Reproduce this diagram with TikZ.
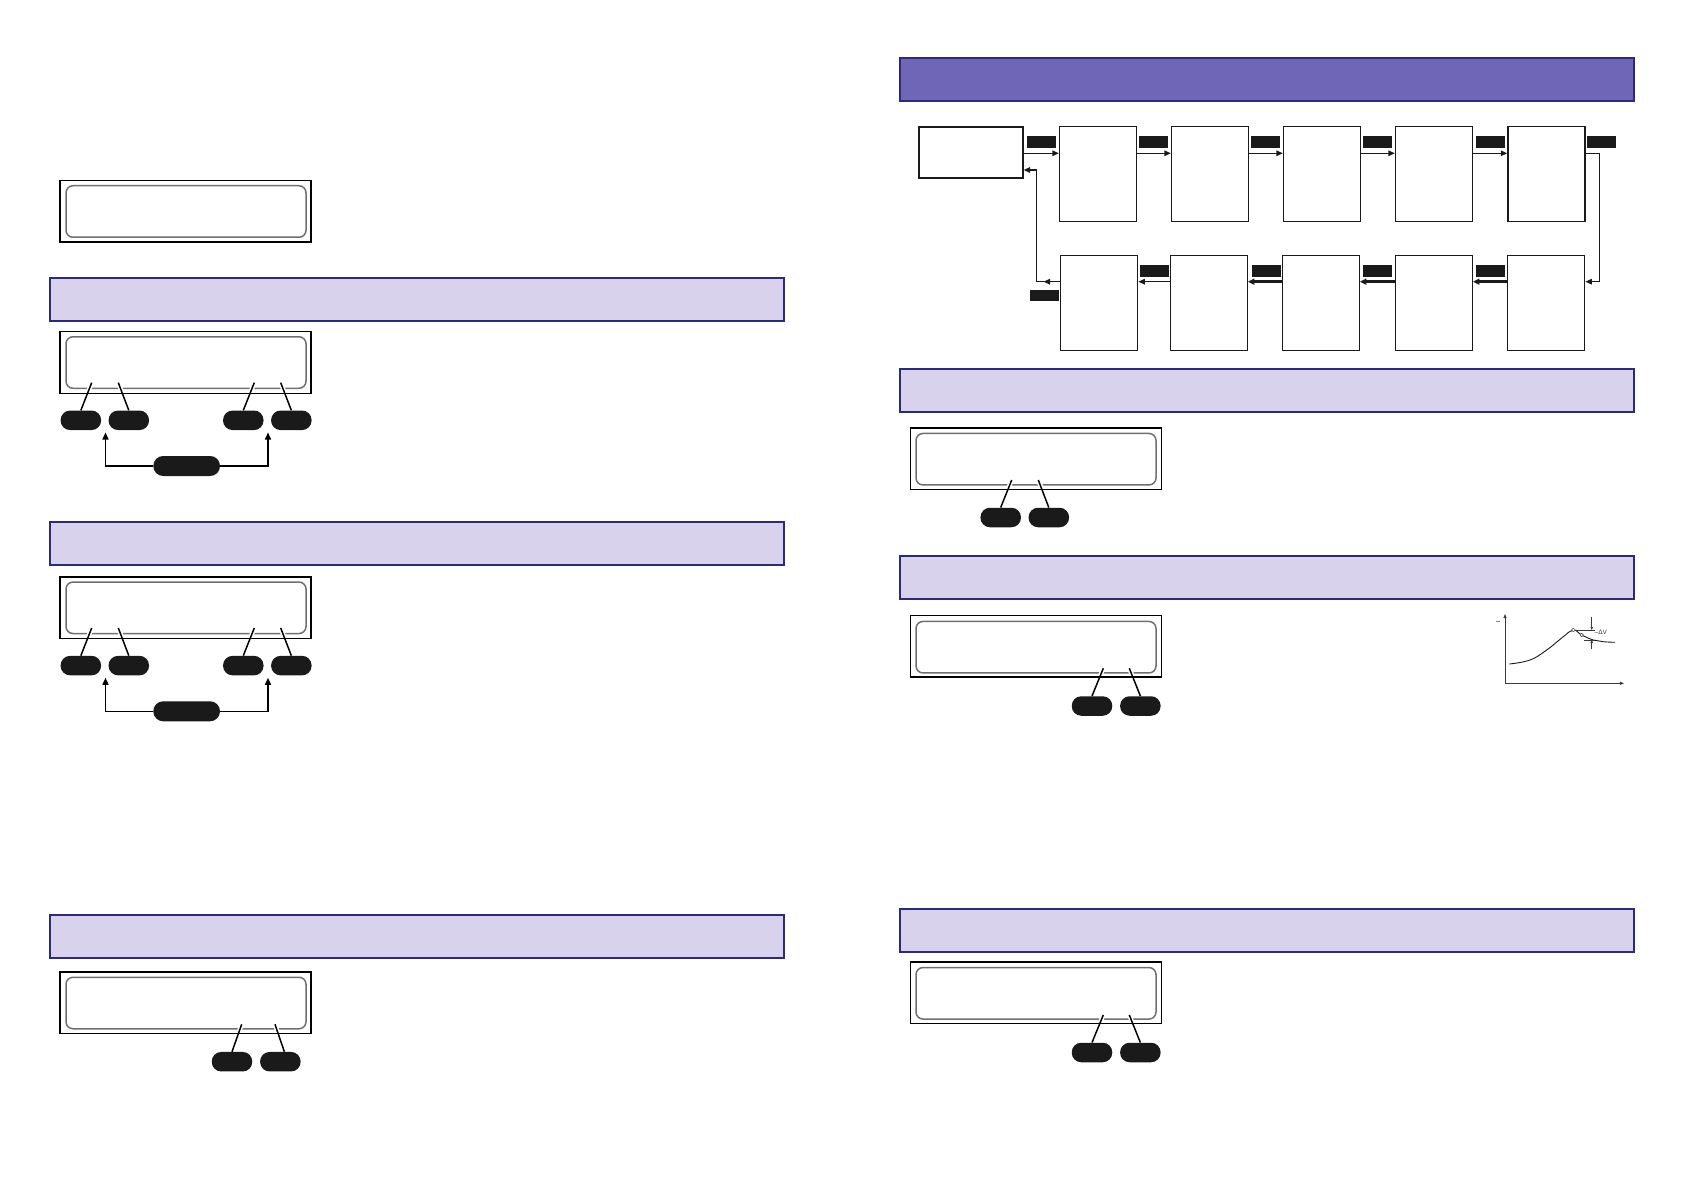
\documentclass[tikz,border=0pt]{standalone}
\usepackage{fontspec}
\setmainfont{Liberation Sans}
\usetikzlibrary{arrows.meta,calc}
\definecolor{lav}{HTML}{D8D2EC}
\definecolor{navyb}{HTML}{2B2A7F}
\definecolor{bannerdark}{HTML}{7066B8}
\definecolor{ink}{HTML}{1A1A1A}
\definecolor{lcdgrey}{HTML}{707070}
\definecolor{plotgrey}{HTML}{3A3A3A}
\begin{document}
\begin{tikzpicture}[x=1pt,y=-1pt,
  banner/.style={draw=navyb,line width=2pt,fill=lav,rectangle,minimum width=734pt,minimum height=43pt,inner sep=0pt},
  darkbanner/.style={banner,fill=bannerdark},
  lcdout/.style={draw=black,line width=1.2pt,rectangle,minimum width=251pt,minimum height=61.5pt,inner sep=0pt},
  lcdin/.style={draw=lcdgrey,line width=1.5pt,rectangle,rounded corners=7pt,minimum width=240pt,minimum height=51.5pt,inner sep=0pt},
  pill/.style={fill=ink,rectangle,rounded corners=9.5pt,minimum width=40.5pt,minimum height=19.5pt,inner sep=0pt},
  bigpill/.style={pill,minimum width=66.7pt,minimum height=20pt,rounded corners=9.9pt},
  leader/.style={line width=1.5pt,preaction={draw=white,line width=4.5pt,shorten >=12pt}},
  conn/.style={line width=1.5pt,-{Triangle[length=7pt,width=6pt]}},
  flowbox/.style={draw=ink,line width=1.3pt,rectangle,minimum width=77pt,minimum height=95pt,inner sep=0pt},
  startbox/.style={draw=ink,line width=2.4pt,rectangle,minimum width=104pt,minimum height=51pt,inner sep=0pt},
  tag/.style={fill=ink,rectangle,minimum width=29pt,minimum height=11.7pt,inner sep=0pt},
  farrow/.style={line width=1.3pt,draw=ink,-{Triangle[length=6.5pt,width=5.5pt]}},
  farrowthick/.style={farrow,line width=2.6pt,-{Triangle[length=6.5pt,width=6pt]}},
  plotline/.style={draw=plotgrey,line width=0.8pt}
]
\fill[white] (0,0) rectangle (1684,1190);
\useasboundingbox (0,0) rectangle (1684,1190);

% ================= LEFT COLUMN =================
% LCD 1
\node[lcdin] (l1in) at (186,211.5) {};
\node[lcdout] (l1) at (185.5,211.2) {};

% Banner 1
\node[banner] (bl1) at (416.5,299.8) {};

% LCD 2
\node[lcdin] (l2in) at (186,362.5) {};
\node[pill] (l2a) at (80.85,420.3) {};
\node[pill] (l2b) at (128.8,420.3) {};
\node[pill] (l2c) at (243.3,420.3) {};
\node[pill] (l2d) at (291.35,420.3) {};
\coordinate (l2sa) at (91.7,382.7);
\coordinate (l2sb) at (118.3,382.7);
\coordinate (l2sc) at (254.3,382.7);
\coordinate (l2sd) at (280.7,382.7);
\draw[leader] (l2sa) -- (l2a.north);
\draw[leader] (l2sb) -- (l2b.north);
\draw[leader] (l2sc) -- (l2c.north);
\draw[leader] (l2sd) -- (l2d.north);
\node[lcdout] (l2) at (185.5,362.5) {};
\node[bigpill] (l2cp) at (186.65,466) {};
\coordinate (l2gl) at (105.5,432.5);
\coordinate (l2gr) at (268,432.5);
\draw[conn] (l2cp.west) -| (l2gl);
\draw[conn] (l2cp.east) -| (l2gr);

% Banner 2
\node[banner] (bl2) at (416.5,543.8) {};

% LCD 3
\node[lcdin] (l3in) at (186,607.8) {};
\node[pill] (l3a) at (80.85,665.6) {};
\node[pill] (l3b) at (128.8,665.6) {};
\node[pill] (l3c) at (243.3,665.6) {};
\node[pill] (l3d) at (291.35,665.6) {};
\coordinate (l3sa) at (91.7,628);
\coordinate (l3sb) at (118.3,628);
\coordinate (l3sc) at (254.3,628);
\coordinate (l3sd) at (280.7,628);
\draw[leader] (l3sa) -- (l3a.north);
\draw[leader] (l3sb) -- (l3b.north);
\draw[leader] (l3sc) -- (l3c.north);
\draw[leader] (l3sd) -- (l3d.north);
\node[lcdout] (l3) at (185.5,607.8) {};
\node[bigpill] (l3cp) at (186.65,711.3) {};
\coordinate (l3gl) at (105.5,677.8);
\coordinate (l3gr) at (268,677.8);
\draw[conn] (l3cp.west) -| (l3gl);
\draw[conn] (l3cp.east) -| (l3gr);

% Banner 3
\node[banner] (bl3) at (416.5,936.5) {};

% LCD 4
\node[lcdin] (l4in) at (186,1003) {};
\node[pill] (l4a) at (232,1061.7) {};
\node[pill] (l4b) at (280.35,1061.7) {};
\coordinate (l4sa) at (241.7,1024.3);
\coordinate (l4sb) at (275,1024.3);
\draw[leader] (l4sa) -- ($(l4a.north)+(0,0)$);
\draw[leader] (l4sb) -- ($(l4b.north)+(4,0)$);
\node[lcdout] (l4) at (185.5,1002.8) {};

% ================= RIGHT COLUMN =================
\node[darkbanner] (br0) at (1267.2,79.5) {};

% Flowchart
\coordinate (ytop) at (0,153.3);
\coordinate (ybot) at (0,281.7);
\node[startbox] (st) at (971,152.5) {};
\node[flowbox] (t1) at (1098,174) {};
\node[flowbox] (t2) at (1210,174) {};
\node[flowbox] (t3) at (1322,174) {};
\node[flowbox] (t4) at (1434,174) {};
\node[flowbox] (t5) at (1546.4,174) {};
\node[flowbox] (b1) at (1099.2,302.7) {};
\node[flowbox] (b2) at (1208.8,302.7) {};
\node[flowbox] (b3) at (1320.8,302.7) {};
\node[flowbox] (b4) at (1433.8,302.7) {};
\node[flowbox] (b5) at (1546.2,302.7) {};

\node[tag] (k0) at (1041.65,141.85) {};
\node[tag] (k1) at (1153.8,141.85) {};
\node[tag] (k2) at (1265.5,141.85) {};
\node[tag] (k3) at (1377.9,141.85) {};
\node[tag] (k4) at (1490,141.85) {};
\node[tag] (k5) at (1601.6,141.85) {};
\node[tag] (j1) at (1154.5,270.85) {};
\node[tag] (j2) at (1266.3,270.85) {};
\node[tag] (j3) at (1377.5,270.85) {};
\node[tag] (j4) at (1490.3,270.85) {};
\node[tag] (j0) at (1044.5,295.5) {};

\draw[farrow] (st.east |- ytop) -- (t1.west |- ytop);
\draw[farrow] (t1.east |- ytop) -- (t2.west |- ytop);
\draw[farrow] (t2.east |- ytop) -- (t3.west |- ytop);
\draw[farrow] (t3.east |- ytop) -- (t4.west |- ytop);
\draw[farrow] (t4.east |- ytop) -- (t5.west |- ytop);
\coordinate (rc) at (1599.3,153.3);
\draw[farrow] (t5.east |- ytop) -- (rc) |- (b5.east |- ybot);
\draw[farrowthick] (b5.west |- ybot) -- (b4.east |- ybot);
\draw[farrowthick] (b4.west |- ybot) -- (b3.east |- ybot);
\draw[farrowthick] (b3.west |- ybot) -- (b2.east |- ybot);
\draw[farrow] (b2.west |- ybot) -- (b1.east |- ybot);
\coordinate (rA) at (1043.5,281.7);
\coordinate (rB) at (1036.7,170);
\coordinate (sIn) at (1023.6,170);
\draw[farrow] (b1.west |- ybot) -- (rA);
\draw[farrow] (rA) -| (rB) -- (sIn);

% Banner r1 + LCD r1
\node[banner] (br1) at (1267.2,390.8) {};
\node[lcdin] (r1in) at (1036,459.2) {};
\node[pill] (r1a) at (1000.7,517.5) {};
\node[pill] (r1b) at (1048.8,517.5) {};
\coordinate (r1sa) at (1011.7,480);
\coordinate (r1sb) at (1038.3,480);
\draw[leader] (r1sa) -- (r1a.north);
\draw[leader] (r1sb) -- (r1b.north);
\node[lcdout] (r1) at (1035.6,458.8) {};

% Banner r2 + LCD r2
\node[banner] (br2) at (1267.2,577.9) {};
\node[lcdin] (r2in) at (1036,647.2) {};
\node[pill] (r2a) at (1092,706) {};
\node[pill] (r2b) at (1140.35,706) {};
\coordinate (r2sa) at (1103.3,668.3);
\coordinate (r2sb) at (1129.3,668.3);
\draw[leader] (r2sa) -- (r2a.north);
\draw[leader] (r2sb) -- (r2b.north);
\node[lcdout] (r2) at (1035.6,646.2) {};

% small plot
\draw[plotline,-{Triangle[length=4pt,width=3pt]}] (1505,683.3) -- (1505,614);
\draw[plotline,-{Triangle[length=4pt,width=3pt]}] (1505,683.3) -- (1624,683.3);
\draw[draw=gray,line width=0.6pt] (1496,621.7) -- (1500,621.7);
\draw[draw=ink,line width=0.9pt] plot[smooth,tension=0.7] coordinates {(1509.3,664) (1530,660) (1546.7,650) (1563.3,636.7) (1573.3,630) (1581.7,635) (1593.3,640) (1603.3,641.7) (1615,642.3)};
\draw[plotline,line width=0.5pt] (1573.3,630) -- (1595,630);
\draw[plotline,line width=0.5pt] (1584,640) -- (1595,640);
\draw[plotline,line width=0.5pt,-{Triangle[length=3pt,width=2.5pt]}] (1591.7,616.7) -- (1591.7,630);
\draw[plotline,line width=0.5pt,-{Triangle[length=3pt,width=2.5pt]}] (1591.7,649.3) -- (1591.7,640);
\draw[plotline,line width=0.5pt,fill=white] (1573.3,630) circle (1.8);
\draw[plotline,line width=0.5pt,fill=white] (1581.7,635) circle (1.8);
\node[anchor=west,inner sep=0pt,text=plotgrey,font=\fontsize{6.5}{7}\selectfont] (dv) at (1594.5,632.5) {–ΔV};

% Banner r3 + LCD r3
\node[banner] (br3) at (1267.2,930.3) {};
\node[lcdin] (r3in) at (1036,993.3) {};
\node[pill] (r3a) at (1092,1052.5) {};
\node[pill] (r3b) at (1140.35,1052.5) {};
\coordinate (r3sa) at (1103.3,1015);
\coordinate (r3sb) at (1129.3,1015);
\draw[leader] (r3sa) -- (r3a.north);
\draw[leader] (r3sb) -- (r3b.north);
\node[lcdout] (r3) at (1035.6,992.8) {};
\end{tikzpicture}
\end{document}
